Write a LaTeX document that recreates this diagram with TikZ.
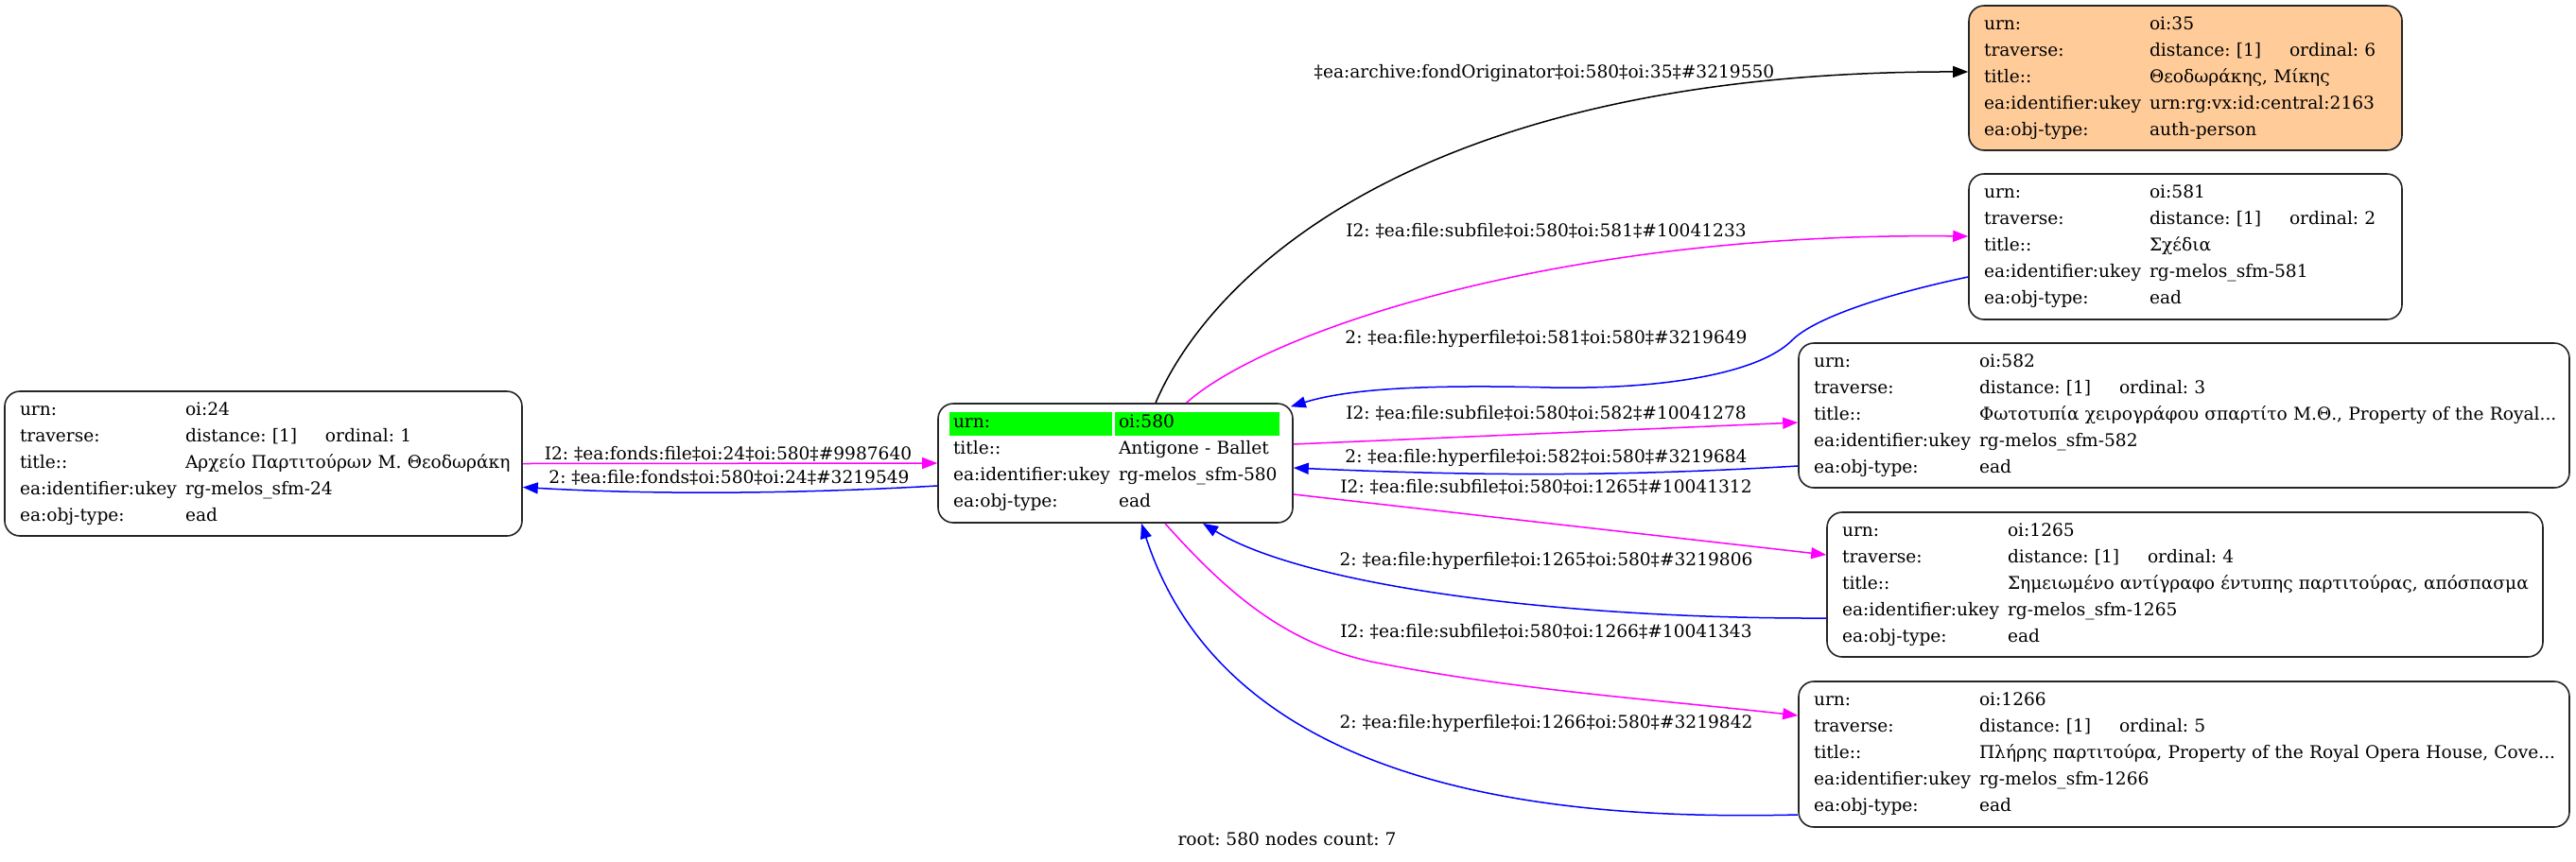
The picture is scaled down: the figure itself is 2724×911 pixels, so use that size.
\documentclass[tikz,border=0pt]{standalone}
\usepackage{fontspec}
\setmainfont{DejaVu Serif}
\usetikzlibrary{arrows.meta}
\definecolor{peach}{HTML}{FFCC99}
\definecolor{lime}{HTML}{00FF00}
\definecolor{mag}{HTML}{FF00FF}
\definecolor{blu}{HTML}{0000FF}
\newcommand{\kv}[2]{\makebox[175pt][l]{#1}\mbox{#2}}
\newcommand{\trv}[1]{\makebox[148pt][l]{distance: [1]}ordinal: #1}
\frenchspacing
\begin{document}
\frenchspacing
\begin{tikzpicture}[x=1pt,y=-1pt,
  rec/.style={draw=black!85, line width=1.6pt, rounded corners=16pt, inner xsep=16pt, inner ysep=0pt, align=left, font=\fontsize{18.6}{28}\selectfont\frenchspacing},
  lab/.style={font=\fontsize{18.6}{22}\selectfont\frenchspacing, inner sep=0pt},
  edge/.style={line width=1.5pt, -{Triangle[length=16pt,width=12pt]}},
  ]
\useasboundingbox (0,0) rectangle (2724,911);

% nodes
\node[rec, text width=515pt, minimum height=153pt] (n24) at (278.5,490.5)
 {\kv{urn:}{oi:24}\\ \kv{traverse:}{\trv{1}}\\ \kv{title::}{Αρχείο Παρτιτούρων Μ. Θεοδωράκη}\\ \kv{ea:identifier:ukey}{rg-melos\_sfm-24}\\ \kv{ea:obj-type:}{ead}};

\fill[lime] (1004,436) rectangle (1176,461);
\fill[lime] (1179,436) rectangle (1353,461);
\node[rec, text width=343pt, minimum height=126pt] (n580) at (1179.5,490)
 {\kv{urn:}{oi:580}\\ \kv{title::}{Antigone - Ballet}\\ \kv{ea:identifier:ukey}{rg-melos\_sfm-580}\\ \kv{ea:obj-type:}{ead}};

\node[rec, fill=peach, text width=426pt, minimum height=153pt] (n35) at (2311,82.5)
 {\kv{urn:}{oi:35}\\ \kv{traverse:}{\trv{6}}\\ \kv{title::}{Θεοδωράκης, Μίκης}\\ \kv{ea:identifier:ukey}{urn:rg:vx:id:central:2163}\\ \kv{ea:obj-type:}{auth-person}};

\node[rec, text width=426pt, minimum height=154pt] (n581) at (2311,261)
 {\kv{urn:}{oi:581}\\ \kv{traverse:}{\trv{2}}\\ \kv{title::}{Σχέδια}\\ \kv{ea:identifier:ukey}{rg-melos\_sfm-581}\\ \kv{ea:obj-type:}{ead}};

\node[rec, text width=783pt, minimum height=153pt] (n582) at (2309.5,439.5)
 {\kv{urn:}{oi:582}\\ \kv{traverse:}{\trv{3}}\\ \kv{title::}{Φωτοτυπία χειρογράφου σπαρτίτο Μ.Θ., Property of the Royal...}\\ \kv{ea:identifier:ukey}{rg-melos\_sfm-582}\\ \kv{ea:obj-type:}{ead}};

\node[rec, text width=725pt, minimum height=153pt] (n1265) at (2310.5,618.5)
 {\kv{urn:}{oi:1265}\\ \kv{traverse:}{\trv{4}}\\ \kv{title::}{Σημειωμένο αντίγραφο έντυπης παρτιτούρας, απόσπασμα}\\ \kv{ea:identifier:ukey}{rg-melos\_sfm-1265}\\ \kv{ea:obj-type:}{ead}};

\node[rec, text width=783pt, minimum height=154pt] (n1266) at (2309.5,798)
 {\kv{urn:}{oi:1266}\\ \kv{traverse:}{\trv{5}}\\ \kv{title::}{Πλήρης παρτιτούρα, Property of the Royal Opera House, Cove...}\\ \kv{ea:identifier:ukey}{rg-melos\_sfm-1266}\\ \kv{ea:obj-type:}{ead}};

% edges
\draw[edge, mag] (n24.east) -- (n580.west);
\draw[edge, blu] ([yshift=-24pt]n580.west) .. controls (850,522) and (700,524) .. ([yshift=-25pt]n24.east);
\draw[edge, black] ([xshift=42.5pt]n580.north) .. controls (1280,290) and (1500,75) .. ([yshift=6.5pt]n35.west);
\draw[edge, mag] ([xshift=75pt]n580.north) .. controls (1340,350) and (1650,245) .. ([yshift=11pt]n581.west);
\draw[edge, blu] ([yshift=-32pt]n581.west) .. controls (2000,310) and (1920,335) .. (1895,360)
   .. controls (1860,395) and (1760,412) .. (1640,410)
   .. controls (1520,407) and (1430,410) .. ([xshift=-3pt,yshift=-4pt]n580.north east);
\draw[edge, mag] ([yshift=20pt]n580.east) -- ([yshift=-7.5pt]n582.west);
\draw[edge, blu] ([yshift=-53.5pt]n582.west) .. controls (1700,505) and (1550,503) .. ([yshift=-5pt]n580.east);
\draw[edge, mag] ([yshift=-33pt]n580.east) -- ([yshift=31.5pt]n1265.west);
\draw[edge, blu] ([yshift=-35.5pt]n1265.west) .. controls (1650,655) and (1380,620) .. ([xshift=92.5pt]n580.south);
\draw[edge, mag] ([xshift=52.5pt]n580.south) .. controls (1300,630) and (1360,680) .. (1450,700)
   .. controls (1600,730) and (1750,740) .. ([yshift=41pt]n1266.west);
\draw[edge, blu] ([yshift=-64pt]n1266.west) .. controls (1650,868) and (1300,840) .. ([xshift=27.5pt]n580.south);

% labels
\node[lab] (l1) at (770,480) {I2: ‡ea:fonds:file‡oi:24‡oi:580‡\#9987640};
\node[lab] (l2) at (771,505) {2: ‡ea:file:fonds‡oi:580‡oi:24‡\#3219549};
\node[lab] (l3) at (1633,77) {‡ea:archive:fondOriginator‡oi:580‡oi:35‡\#3219550};
\node[lab] (l4) at (1635,244) {I2: ‡ea:file:subfile‡oi:580‡oi:581‡\#10041233};
\node[lab] (l5) at (1635,358) {2: ‡ea:file:hyperfile‡oi:581‡oi:580‡\#3219649};
\node[lab] (l6) at (1635,437) {I2: ‡ea:file:subfile‡oi:580‡oi:582‡\#10041278};
\node[lab] (l7) at (1635,484) {2: ‡ea:file:hyperfile‡oi:582‡oi:580‡\#3219684};
\node[lab] (l8) at (1635,515) {I2: ‡ea:file:subfile‡oi:580‡oi:1265‡\#10041312};
\node[lab] (l9) at (1635,593) {2: ‡ea:file:hyperfile‡oi:1265‡oi:580‡\#3219806};
\node[lab] (l10) at (1635,668) {I2: ‡ea:file:subfile‡oi:580‡oi:1266‡\#10041343};
\node[lab] (l11) at (1635,765) {2: ‡ea:file:hyperfile‡oi:1266‡oi:580‡\#3219842};
\node[lab] (root) at (1361,888) {root: 580 nodes count: 7};
\end{tikzpicture}
\end{document}
